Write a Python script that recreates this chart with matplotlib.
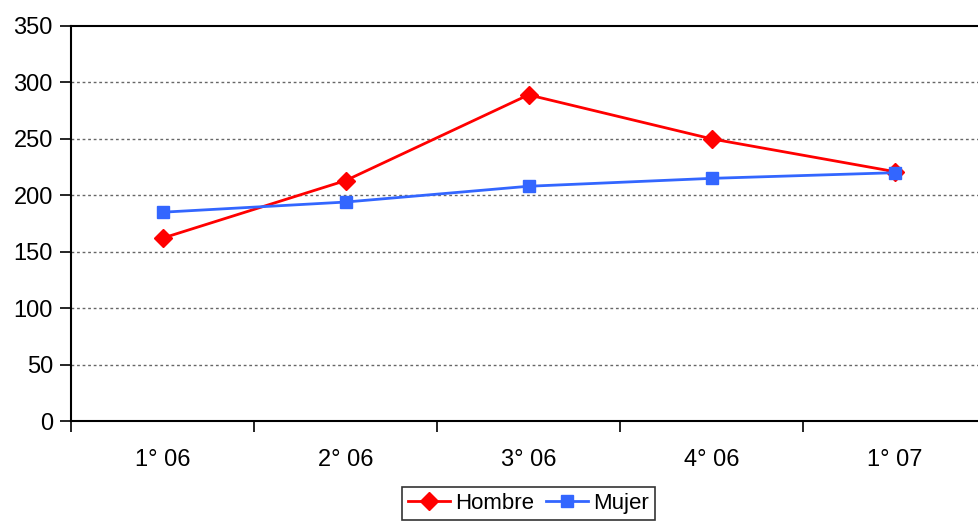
import matplotlib
matplotlib.use("Agg")
import matplotlib.pyplot as plt
from matplotlib.ticker import MultipleLocator, FixedLocator

categories = ["1° 06", "2° 06", "3° 06", "4° 06", "1° 07"]
hombre = [162, 213, 289, 250, 221]
mujer = [185, 194, 208, 215, 220]

plt.rcParams['font.family'] = ['Liberation Sans', 'DejaVu Sans']

W, H = 979, 523
fig = plt.figure(figsize=(W/100, H/100), dpi=100)
left, right, top, bottom = 71, 986, 26, 421
ax = fig.add_axes([left/W, 1-bottom/H, (right-left)/W, (bottom-top)/H])

x = list(range(len(categories)))
ax.plot(x, hombre, color='#ff0000', lw=2, marker='D', markersize=9, label='Hombre', clip_on=False, zorder=3)
ax.plot(x, mujer, color='#3366ff', lw=2, marker='s', markersize=9, label='Mujer', clip_on=False, zorder=3)

ax.set_xlim(-0.5, len(categories)-0.5)
ax.set_ylim(0, 350)
ax.yaxis.set_major_locator(MultipleLocator(50))
ax.set_xticks(x)
ax.set_xticklabels(categories)
ax.xaxis.set_minor_locator(FixedLocator([i-0.5 for i in range(len(categories)+1)]))
ax.tick_params(axis='x', which='major', length=0, pad=20, labelsize=17)
ax.tick_params(axis='x', which='minor', length=8, width=1.2, direction='out')
ax.tick_params(axis='y', length=8, width=1.2, direction='out', labelsize=17, pad=5)

for v in range(50, 350, 50):
    ax.axhline(v, color='#666666', lw=1, ls=(0, (2, 2)), zorder=1)

for s in ['left', 'bottom', 'top']:
    ax.spines[s].set_linewidth(1.5)
    ax.spines[s].set_color('black')
ax.spines['right'].set_visible(False)

leg = ax.legend(loc='upper center', bbox_to_anchor=(0.5, -0.14), ncol=2, frameon=True,
                fancybox=False, edgecolor='black', fontsize=16, handlelength=1.9,
                handletextpad=0.25, columnspacing=0.5, borderpad=0.25)
leg.get_frame().set_linewidth(1.2)

fig.savefig('out.png', dpi=100)
